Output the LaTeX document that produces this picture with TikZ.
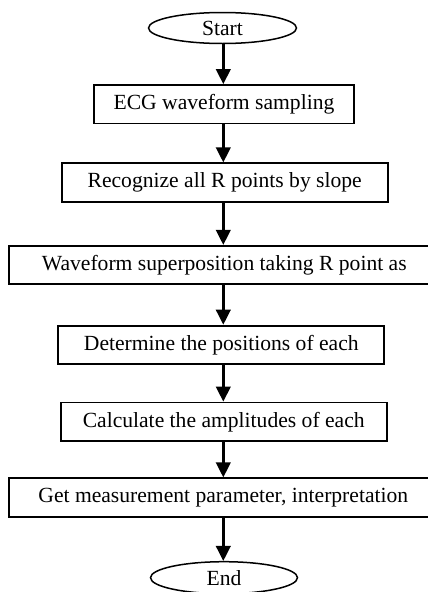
\documentclass[tikz,border=0pt]{standalone}
\usepackage{fontspec}
\setmainfont{Liberation Serif}
\usetikzlibrary{arrows.meta,shapes.geometric}
\begin{document}
\begin{tikzpicture}[x=1pt,y=-1pt,
  every node/.style={font=\fontsize{21.6}{25}\selectfont},
  procbox/.style={draw, line width=1.8pt, rectangle, inner sep=0pt, minimum height=38.4pt},
  termnode/.style={draw, line width=1.5pt, ellipse, inner sep=0pt, minimum width=148pt, minimum height=31pt},
  flow/.style={line width=2.5pt, -{Triangle[length=15pt,width=14.5pt]}}
]
\useasboundingbox (0,0) rectangle (428,592);
\clip (0,0) rectangle (428,592);
\node[termnode] (start) at (222.5,28) {Start};
\node[procbox, minimum width=260pt] (b1) at (224,104.2) {ECG waveform sampling};
\node[procbox, minimum width=326pt] (b2) at (224.7,182.5) {Recognize all R points by slope};
\node[procbox, minimum width=430pt] (b3) at (224.3,265) {Waveform superposition taking R point as};
\node[procbox, minimum width=326pt] (b4) at (221.3,344.8) {Determine the positions of each};
\node[procbox, minimum width=326pt] (b5) at (223.7,421.7) {Calculate the amplitudes of each};
\node[procbox, minimum width=428pt] (b6) at (223.3,497.5) {Get measurement parameter, interpretation};
\node[termnode, minimum width=147pt, minimum height=32pt] (end) at (224,577.7) {End};
\draw[flow] (start.south -| 223.3,0) -- (b1.north -| 223.3,0);
\draw[flow] (b1.south -| 223.3,0) -- (b2.north -| 223.3,0);
\draw[flow] (b2.south -| 223.3,0) -- (b3.north -| 223.3,0);
\draw[flow] (b3.south -| 223.3,0) -- (b4.north -| 223.3,0);
\draw[flow] (b4.south -| 223.3,0) -- (b5.north -| 223.3,0);
\draw[flow] (b5.south -| 223.3,0) -- (b6.north -| 223.3,0);
\draw[flow] (b6.south -| 223.3,0) -- (end.north -| 223.3,0);
\end{tikzpicture}
\end{document}
